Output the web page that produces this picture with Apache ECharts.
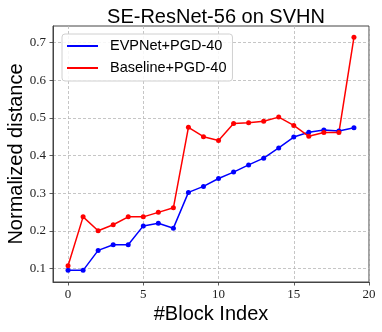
<!DOCTYPE html>
<html>
<head>
<meta charset="utf-8">
<script src="https://cdn.jsdelivr.net/npm/echarts@6/dist/echarts.min.js"></script>
<style>
    html, body { margin: 0; padding: 0; background: #fff; }
    #chart { width: 382px; height: 332px; }
</style>
</head>
<body>
<div id="chart"></div>
<script>
// block index on the x axis
const blockIndex = [0, 1, 2, 3, 4, 5, 6, 7, 8, 9, 10, 11, 12, 13, 14, 15, 16, 17, 18, 19]

// normalized distance per block
const evpnetPgd = [0.095, 0.095, 0.148, 0.163, 0.163, 0.213, 0.220, 0.207, 0.302, 0.318,
    0.339, 0.356, 0.375, 0.393, 0.420, 0.449, 0.462, 0.468, 0.465, 0.474]
const baselinePgd = [0.107, 0.237, 0.200, 0.216, 0.237, 0.237, 0.249, 0.261, 0.475, 0.450,
    0.440, 0.485, 0.487, 0.491, 0.502, 0.480, 0.451, 0.461, 0.461, 0.714]

// tick labels
const xTicks = [0, 5, 10, 15, 20]
const yTicks = [0.1, 0.2, 0.3, 0.4, 0.5, 0.6, 0.7]

const pairs = (ys) => blockIndex.map((x, i) => [x, ys[i]])

const sans = 'Liberation Sans, Arial, sans-serif'
const serif = 'Liberation Serif, DejaVu Serif, serif'

// 公共轴样式
const gridLine = { show: true, lineStyle: { color: '#b8b8b8', type: [3, 2], width: 0.8 } }
const tick = { show: true, length: 3.5, lineStyle: { color: '#333', width: 0.8 } }

const chart = echarts.init(document.getElementById('chart'), null, { renderer: 'canvas' })
chart.setOption({
    animation: false,
    backgroundColor: '#fff',
    title: {
        text: 'SE-ResNet-56 on SVHN',
        left: 211,
        top: 2,
        textAlign: 'center',
        textStyle: { fontFamily: sans, fontSize: 20, fontWeight: 'normal', color: '#000' },
    },
    grid: {
        left: 53,
        right: 13,
        top: 26,
        bottom: 50,
        show: true,
        borderColor: '#444',
        borderWidth: 1,
        containLabel: false,
        outerBoundsMode: 'none',
    },
    legend: {
        orient: 'vertical',
        left: 62,
        top: 34,
        padding: [4, 6, 5, 5],
        itemGap: 6,
        itemWidth: 31,
        itemHeight: 2,
        icon: 'rect',
        backgroundColor: 'rgba(255,255,255,0.85)',
        borderColor: '#d0d0d0',
        borderWidth: 1,
        borderRadius: 3,
        textStyle: { fontFamily: sans, fontSize: 14.5, color: '#000', lineHeight: 16, padding: [0, 0, 0, 7] },
        data: ['EVPNet+PGD-40', 'Baseline+PGD-40'],
    },
    xAxis: {
        type: 'value',
        min: -1,
        max: 20,
        name: '#Block Index',
        nameLocation: 'middle',
        nameGap: 22,
        nameMoveOverlap: false,
        nameTextStyle: { fontFamily: sans, fontSize: 20, color: '#000' },
        axisLine: { show: true, onZero: false, lineStyle: { color: '#444', width: 1 } },
        axisTick: { ...tick, customValues: xTicks },
        axisLabel: { customValues: xTicks, fontFamily: serif, fontSize: 13, color: '#222', margin: 6,
            showMaxLabel: true },
        splitLine: gridLine,
    },
    yAxis: {
        type: 'value',
        min: 0.064,
        max: 0.744,
        name: 'Normalized distance',
        nameLocation: 'middle',
        nameGap: 27,
        nameMoveOverlap: false,
        nameTextStyle: { fontFamily: sans, fontSize: 20, color: '#000' },
        axisLine: { show: true, onZero: false, lineStyle: { color: '#444', width: 1 } },
        axisTick: { ...tick, customValues: yTicks },
        axisLabel: { customValues: yTicks, fontFamily: serif, fontSize: 13, color: '#222', margin: 7,
            formatter: (v) => v.toFixed(1) },
        splitLine: gridLine,
    },
    series: [
        {
            name: 'EVPNet+PGD-40',
            type: 'line',
            data: pairs(evpnetPgd),
            symbol: 'circle',
            symbolSize: 5,
            color: '#0000ff',
            lineStyle: { width: 1.5 },
        },
        {
            name: 'Baseline+PGD-40',
            type: 'line',
            data: pairs(baselinePgd),
            symbol: 'circle',
            symbolSize: 5,
            color: '#ff0000',
            lineStyle: { width: 1.5 },
        },
    ],
})
</script>
</body>
</html>
